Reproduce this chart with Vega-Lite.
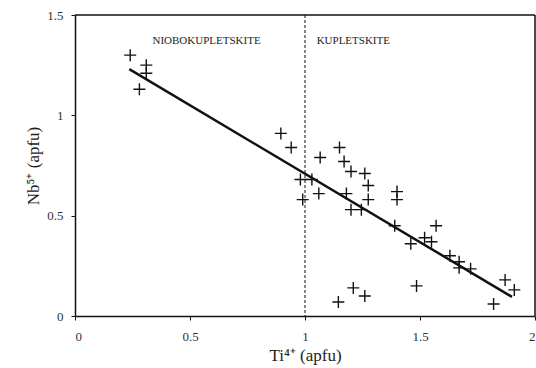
{
  "$schema": "https://vega.github.io/schema/vega-lite/v6.json",
  "width": 460,
  "height": 301,
  "autosize": {"type": "none"},
  "padding": {"left": 75, "top": 15, "right": 1, "bottom": 52},
  "background": "white",
  "config": {
    "view": {"stroke": null},
    "axis": {
      "grid": false,
      "domainColor": "#111",
      "domainWidth": 1.5,
      "tickColor": "#111",
      "tickWidth": 1,
      "tickSize": 4,
      "labelFont": "Liberation Serif",
      "labelFontSize": 13,
      "labelColor": "#333",
      "titleFont": "Liberation Serif",
      "titleFontSize": 17,
      "titleFontWeight": "normal",
      "titleColor": "#222"
    }
  },
  "datasets": {
    "pts": [
      {"ti": 0.24, "nb": 1.30}, {"ti": 0.31, "nb": 1.25}, {"ti": 0.31, "nb": 1.21}, {"ti": 0.28, "nb": 1.13},
      {"ti": 0.895, "nb": 0.91}, {"ti": 0.94, "nb": 0.84},
      {"ti": 1.066, "nb": 0.79}, {"ti": 1.15, "nb": 0.84}, {"ti": 1.17, "nb": 0.77}, {"ti": 1.2, "nb": 0.72},
      {"ti": 1.26, "nb": 0.71}, {"ti": 1.275, "nb": 0.65}, {"ti": 0.98, "nb": 0.68}, {"ti": 1.03, "nb": 0.68},
      {"ti": 1.06, "nb": 0.61}, {"ti": 0.99, "nb": 0.58}, {"ti": 1.18, "nb": 0.61}, {"ti": 1.275, "nb": 0.58},
      {"ti": 1.2, "nb": 0.53}, {"ti": 1.245, "nb": 0.53}, {"ti": 1.4, "nb": 0.62}, {"ti": 1.4, "nb": 0.58},
      {"ti": 1.39, "nb": 0.45}, {"ti": 1.57, "nb": 0.45}, {"ti": 1.52, "nb": 0.39}, {"ti": 1.46, "nb": 0.36},
      {"ti": 1.55, "nb": 0.37}, {"ti": 1.63, "nb": 0.30}, {"ti": 1.67, "nb": 0.27}, {"ti": 1.67, "nb": 0.24},
      {"ti": 1.72, "nb": 0.235}, {"ti": 1.87, "nb": 0.18}, {"ti": 1.91, "nb": 0.13}, {"ti": 1.82, "nb": 0.06},
      {"ti": 1.485, "nb": 0.15}, {"ti": 1.21, "nb": 0.14}, {"ti": 1.26, "nb": 0.10}, {"ti": 1.145, "nb": 0.07}
    ],
    "fit": [{"ti": 0.236, "nb": 1.23}, {"ti": 1.9, "nb": 0.095}],
    "divider": [{"ti": 1}],
    "vedge": [{"ti": 2}],
    "hedge": [{"nb": 1.5}],
    "labels": [
      {"ti": 0.572, "nb": 1.37, "text": "NIOBOKUPLETSKITE"},
      {"ti": 1.21, "nb": 1.37, "text": "KUPLETSKITE"}
    ]
  },
  "layer": [
    {
      "data": {"name": "pts"},
      "mark": {"type": "point", "shape": "M-1,0L1,0M0,-1L0,1", "filled": false, "stroke": "#111", "strokeWidth": 1.4, "size": 144, "opacity": 1},
      "encoding": {
        "x": {"field": "ti", "type": "quantitative", "scale": {"domain": [0, 2], "nice": false},
              "axis": {"values": [0, 0.5, 1, 1.5, 2], "labelExpr": "datum.value + ''", "labelPadding": 10, "title": "Ti⁴⁺ (apfu)", "titlePadding": 4}},
        "y": {"field": "nb", "type": "quantitative", "scale": {"domain": [0, 1.5], "nice": false},
              "axis": {"values": [0, 0.5, 1, 1.5], "labelExpr": "datum.value + ''", "labelPadding": 8, "title": "Nb⁵⁺ (apfu)", "titlePadding": 4}}
      }
    },
    {
      "data": {"name": "vedge"},
      "mark": {"type": "rule", "color": "#111", "strokeWidth": 1.5},
      "encoding": {"x": {"field": "ti", "type": "quantitative"}}
    },
    {
      "data": {"name": "hedge"},
      "mark": {"type": "rule", "color": "#111", "strokeWidth": 1.5},
      "encoding": {"y": {"field": "nb", "type": "quantitative"}}
    },
    {
      "data": {"name": "fit"},
      "mark": {"type": "line", "color": "#111", "strokeWidth": 2.5},
      "encoding": {
        "x": {"field": "ti", "type": "quantitative"},
        "y": {"field": "nb", "type": "quantitative"}
      }
    },
    {
      "data": {"name": "divider"},
      "mark": {"type": "rule", "color": "#111", "strokeWidth": 1, "strokeDash": [3, 2]},
      "encoding": {"x": {"field": "ti", "type": "quantitative"}}
    },
    {
      "data": {"name": "labels"},
      "mark": {"type": "text", "font": "Liberation Serif", "fontSize": 11, "color": "#222"},
      "encoding": {
        "x": {"field": "ti", "type": "quantitative"},
        "y": {"field": "nb", "type": "quantitative"},
        "text": {"field": "text"}
      }
    }
  ]
}
